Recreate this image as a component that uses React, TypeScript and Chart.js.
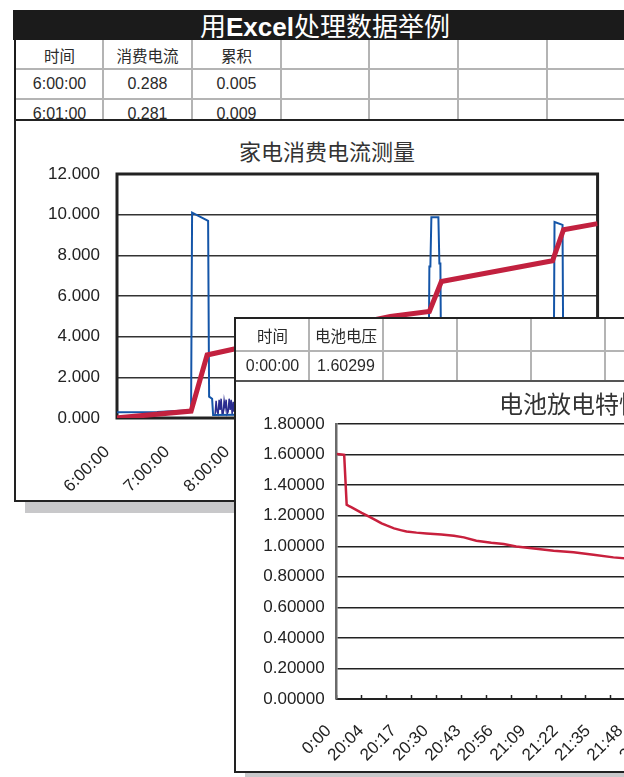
import React, { useEffect, useRef } from "react";
import { Chart, registerables } from "chart.js";

Chart.register(...registerables);

const FONT = '"Liberation Sans", "Noto Sans CJK SC", Arial, sans-serif';
const CJK = '"Noto Sans CJK SC", "Liberation Sans", sans-serif';
Chart.defaults.font.family = FONT;

// ---------- page texts ----------
const pageTitleParts = ["用", "Excel", "处理数据举例"];
const table1Header = ["时间", "消费电流", "累积"];
const table1Rows = [
  ["6:00:00", "0.288", "0.005"],
  ["6:01:00", "0.281", "0.009"],
];
const table2Header = ["时间", "电池电压"];
const table2Rows = [["0:00:00", "1.60299"]];
const chart1Title = "家电消费电流测量";
const chart2Title = "电池放电特性";

// ---------- chart 1: 家电消费电流测量 (x = minutes after 6:00) ----------
const currentHourLabels = ["6:00:00", "7:00:00", "8:00:00", "9:00:00", "10:00:00", "11:00:00", "12:00:00", "13:00:00", "14:00:00"];
const currentMinutes = [0, 1, 40, 74, 75, 91, 92, 95, 96, 200, 311, 312, 313, 314, 321, 322, 323, 324, 400, 436, 437, 445, 446, 480];
const currentValues = [0.288, 0.281, 0.3, 0.38, 10.1, 9.7, 1.05, 0.95, 0.15, 0.2, 0.25, 7.45, 7.45, 9.87, 9.87, 7.6, 7.6, 0.3, 0.25, 0.28, 9.64, 9.5, 0.3, 0.3];
const noiseMinutes = [97, 98, 99, 100, 101, 102, 103, 104, 105, 106, 107, 108, 109, 110, 111, 112, 113, 114, 115, 116, 117, 118, 119, 120];
const noiseValues = [0.15, 0.2, 0.85, 0.3, 0.2, 0.9, 0.4, 0.95, 0.2, 0.2, 0.85, 0.5, 0.9, 0.2, 0.3, 0.95, 0.4, 0.9, 0.2, 0.8, 0.3, 0.9, 0.2, 0.15];
const cumulativeMinutes = [0, 1, 74, 90, 116, 273, 312, 324, 435, 446, 480];
const cumulativeValues = [0.005, 0.009, 0.34, 3.1, 3.38, 4.99, 5.24, 6.71, 7.73, 9.26, 9.56];

// ---------- chart 2: 电池放电特性 (x = minutes from start) ----------
const LABEL_EVERY = 13;
const TICK_EVERY = 10;
const voltageTickLabels = ["0:00", "20:04", "20:17", "20:30", "20:43", "20:56", "21:09", "21:22", "21:35", "21:48", "22:01", "22:14", "22:27"];
const voltageMinutes = [0, 1, 2, 3, 4, 5, 6, 8, 10, 13, 16, 18, 20, 23, 26, 28, 32, 36, 42, 47, 51, 56, 62, 67, 72, 80, 87, 95, 103, 111, 120, 135, 150, 160];
const voltageValues = [1.60299, 1.602, 1.601, 1.598, 1.272, 1.262, 1.254, 1.236, 1.218, 1.193, 1.168, 1.15, 1.136, 1.117, 1.104, 1.096, 1.089, 1.084, 1.077, 1.069, 1.058, 1.036, 1.023, 1.014, 0.998, 0.984, 0.971, 0.96, 0.944, 0.927, 0.915, 0.895, 0.875, 0.86];

const framePlugin = {
  id: "frame",
  beforeDatasetsDraw(chart: any, _args: any, opts: any) {
    if (!opts || !opts.width) return;
    const { ctx, chartArea } = chart;
    ctx.save();
    ctx.strokeStyle = opts.color;
    ctx.lineWidth = opts.width;
    ctx.strokeRect(chartArea.left, chartArea.top, chartArea.right - chartArea.left, chartArea.bottom - chartArea.top);
    ctx.restore();
  },
};

function Table({ cols, rows, texts, sizes, line, lastLine }: any) {
  const els: any[] = [];
  const right = cols[cols.length - 1];
  for (let i = 1; i < cols.length; i++) {
    els.push(
      <div key={"v" + i} style={{ position: "absolute", left: cols[i] - 0.75, top: rows[0], width: 1.5, height: rows[rows.length - 1] - rows[0], background: line }} />
    );
  }
  for (let j = 1; j < rows.length; j++) {
    els.push(
      <div key={"h" + j} style={{ position: "absolute", left: cols[0], top: rows[j] - 0.75, width: right - cols[0], height: 1.5, background: j === rows.length - 1 && lastLine ? lastLine : line }} />
    );
  }
  texts.forEach((row: string[], r: number) =>
    row.forEach((t: string, c: number) =>
      els.push(
        <div
          key={`t${r}-${c}`}
          style={{
            position: "absolute",
            left: cols[c],
            top: rows[r],
            width: cols[c + 1] - cols[c],
            height: rows[r + 1] - rows[r],
            display: "flex",
            alignItems: "center",
            justifyContent: "center",
            fontSize: sizes[r],
            whiteSpace: "nowrap",
            color: "#2a2a2a",
          }}
        >
          {t}
        </div>
      )
    )
  );
  return <>{els}</>;
}

export default function App() {
  const c1 = useRef<HTMLCanvasElement>(null);
  const c2 = useRef<HTMLCanvasElement>(null);

  useEffect(() => {
    const chart1 = new Chart(c1.current as HTMLCanvasElement, {
      type: "line",
      data: {
        datasets: [
          {
            label: "累积",
            data: cumulativeMinutes.map((m, i) => ({ x: m, y: cumulativeValues[i] })),
            borderColor: "#c2213f",
            borderWidth: 5,
            pointRadius: 0,
            order: 0,
          },
          {
            label: "消费电流",
            data: currentMinutes.map((m, i) => ({ x: m, y: currentValues[i] })),
            borderColor: "#1455a8",
            borderWidth: 2,
            pointRadius: 0,
            order: 1,
          },
          {
            label: "消费电流（波动）",
            data: noiseMinutes.map((m, i) => ({ x: m, y: noiseValues[i] })),
            borderColor: "#2a2c8f",
            borderWidth: 1.5,
            pointRadius: 0,
            order: 2,
          },
        ],
      },
      options: {
        animation: false,
        responsive: false,
        layout: { padding: { top: 53, right: 38, left: 0, bottom: 0 } },
        plugins: {
          legend: { display: false },
          tooltip: { enabled: false },
          frame: { color: "#222", width: 3 },
        } as any,
        scales: {
          x: {
            type: "linear",
            min: 0,
            max: 480,
            ticks: {
              stepSize: 60,
              callback: (v: any) => currentHourLabels[Math.round(Number(v) / 60)] ?? "",
              minRotation: 45,
              maxRotation: 45,
              padding: 24,
              labelOffset: -10,
              color: "#222",
              font: { size: 17 },
            },
            grid: { display: false, drawTicks: false },
            border: { display: false },
            afterFit: (s: any) => {
              s.height = 82;
            },
          },
          y: {
            min: 0,
            max: 12,
            ticks: {
              stepSize: 2,
              callback: (v: any) => Number(v).toFixed(3),
              padding: 17,
              color: "#222",
              font: { size: 17 },
            },
            grid: { color: "#333", lineWidth: 1.5, drawTicks: false },
            border: { display: false },
            afterFit: (s: any) => {
              s.width = 101;
            },
          },
        },
      } as any,
      plugins: [framePlugin],
    });

    const labelMinutes = voltageTickLabels.map((_, i) => i * LABEL_EVERY);
    const markMinutes: number[] = [];
    for (let m = 0; m <= 160; m += TICK_EVERY) markMinutes.push(m);
    const allTicks = Array.from(new Set([...labelMinutes, ...markMinutes])).sort((a, b) => a - b);

    const chart2 = new Chart(c2.current as HTMLCanvasElement, {
      type: "line",
      data: {
        datasets: [
          {
            label: "电池电压",
            data: voltageMinutes.map((m, i) => ({ x: m, y: voltageValues[i] })),
            borderColor: "#c8203d",
            borderWidth: 2.5,
            pointRadius: 0,
            tension: 0,
          },
        ],
      },
      options: {
        animation: false,
        responsive: false,
        layout: { padding: { top: 42, right: 23.3, left: 0, bottom: 0 } },
        plugins: { legend: { display: false }, tooltip: { enabled: false } },
        scales: {
          x: {
            type: "linear",
            min: 0,
            max: 160,
            afterBuildTicks: (s: any) => {
              s.ticks = allTicks.map((v) => ({ value: v }));
            },
            ticks: {
              autoSkip: false,
              callback: (v: any) => {
                const i = labelMinutes.indexOf(Number(v));
                return i >= 0 ? voltageTickLabels[i] : "";
              },
              minRotation: 45,
              maxRotation: 45,
              padding: 26,
              labelOffset: -8,
              color: "#222",
              font: { size: 17 },
            },
            grid: {
              drawOnChartArea: false,
              drawTicks: true,
              tickLength: -4,
              tickWidth: 1.5,
              tickColor: (ctx: any) => (ctx.tick && ctx.tick.value % TICK_EVERY === 0 ? "#222" : "rgba(0,0,0,0)"),
            },
            border: { display: true, color: "#222", width: 2 },
            afterFit: (s: any) => {
              s.height = 72;
            },
          },
          y: {
            min: 0,
            max: 1.8,
            ticks: {
              stepSize: 0.2,
              callback: (v: any) => Number(v).toFixed(5),
              padding: 12,
              color: "#222",
              font: { size: 17 },
            },
            grid: { color: "#222", lineWidth: 1.4, drawTicks: false },
            border: { display: true, color: "#6a6a6a", width: 2.5 },
            afterFit: (s: any) => {
              s.width = 100.7;
            },
          },
        },
      } as any,
    });

    return () => {
      chart1.destroy();
      chart2.destroy();
    };
  }, []);

  return (
    <div
      style={{
        position: "fixed",
        left: 0,
        top: 0,
        width: 624,
        height: 777,
        overflow: "hidden",
        background: "#fff",
        fontFamily: FONT,
        color: "#222",
      }}
    >
      {/* header bar */}
      <div
        style={{
          position: "absolute",
          left: 13,
          top: 10,
          width: 624,
          height: 30,
          background: "#1b1b1b",
          color: "#fff",
          fontSize: 26,
          lineHeight: "30px",
          textAlign: "center",
          fontFamily: CJK,
          whiteSpace: "nowrap",
        }}
      >
        {pageTitleParts[0]}
        <b style={{ fontFamily: '"Liberation Sans", Arial, sans-serif' }}>{pageTitleParts[1]}</b>
        {pageTitleParts[2]}
      </div>

      {/* table 1 */}
      <div style={{ position: "absolute", left: 14, top: 40, width: 2, height: 82, background: "#1b1b1b" }} />
      <Table
        cols={[16, 103, 192, 281, 369, 458, 547, 636]}
        rows={[40, 69, 99, 129]}
        texts={[table1Header, ...table1Rows]}
        sizes={[15.5, 16, 16]}
        line="#b4b4b4"
      />

      {/* panel 1 */}
      <div
        style={{
          position: "absolute",
          left: 14,
          top: 119,
          width: 620,
          height: 379,
          border: "2px solid #222",
          background: "#fff",
          boxShadow: "11px 11px 0 #c8c8ca",
        }}
      >
        <div
          style={{
            position: "absolute",
            left: 0,
            top: 16,
            width: 622,
            textAlign: "center",
            fontFamily: CJK,
            fontSize: 22,
            lineHeight: "26px",
            color: "#333",
            whiteSpace: "nowrap",
          }}
        >
          {chart1Title}
        </div>
        <canvas ref={c1} width={620} height={379} style={{ position: "absolute", left: 0, top: 0, width: 620, height: 379 }} />
      </div>

      {/* panel 2 */}
      <div
        style={{
          position: "absolute",
          left: 234,
          top: 317,
          width: 700,
          height: 452,
          border: "2px solid #222",
          background: "#fff",
          boxShadow: "11px 11px 0 #c8c8ca",
        }}
      >
        <Table
          cols={[0, 73, 147, 221, 295, 369, 443, 517, 591, 665]}
          rows={[0, 32, 62]}
          texts={[table2Header, ...table2Rows]}
          sizes={[15.5, 16]}
          line="#b4b4b4"
          lastLine="#555"
        />
        <div
          style={{
            position: "absolute",
            left: 263,
            top: 70,
            fontFamily: CJK,
            fontSize: 24,
            lineHeight: "28px",
            color: "#333",
            whiteSpace: "nowrap",
          }}
        >
          {chart2Title}
        </div>
        <canvas ref={c2} width={540} height={389} style={{ position: "absolute", left: 0, top: 63, width: 540, height: 389 }} />
      </div>
    </div>
  );
}
